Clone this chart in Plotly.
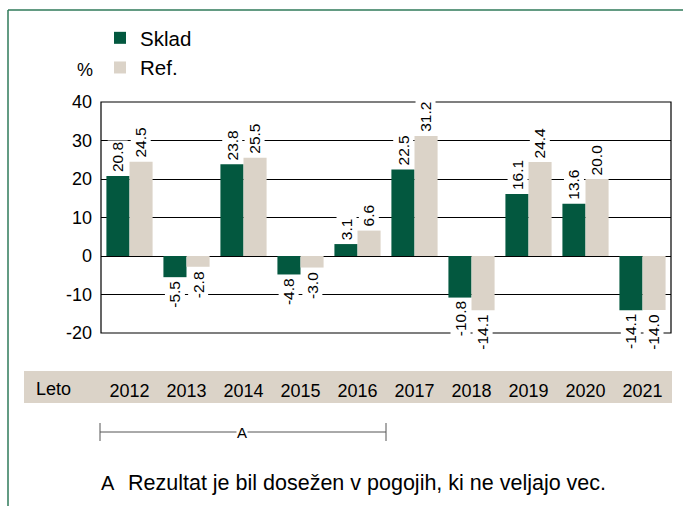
import plotly.graph_objects as go

years = ["2012", "2013", "2014", "2015", "2016", "2017", "2018", "2019", "2020", "2021"]
sklad = [20.8, -5.5, 23.8, -4.8, 3.1, 22.5, -10.8, 16.1, 13.6, -14.1]
ref = [24.5, -2.8, 25.5, -3.0, 6.6, 31.2, -14.1, 24.4, 20.0, -14.0]
y_ticks = [40, 30, 20, 10, 0, -10, -20]

GREEN = "#03583f"
BEIGE = "#dbd3c8"
FONT = "Liberation Sans, Arial, sans-serif"

W, H = 683, 506
ML, MR, MT, MB = 101, 12, 102, 173
PW, PH = W - ML - MR, H - MT - MB


def px(x):
    return (x - ML) / PW


def py(y):
    return (H - MB - y) / PH


fig = go.Figure()
fig.add_trace(go.Bar(x=years, y=sklad, name="Sklad", marker_color=GREEN,
                     marker_line_width=0, legendgroup="a"))
fig.add_trace(go.Bar(x=years, y=ref, name="Ref.", marker_color=BEIGE,
                     marker_line_width=0, legendgroup="b"))

# rotated value labels with white boxes that cut through the gridlines
for series, off in ((sklad, -0.2), (ref, 0.2)):
    for i, v in enumerate(series):
        fig.add_annotation(
            x=i + off, y=v, xref="x", yref="y",
            text=f"{v:.1f}", textangle=-90, showarrow=False,
            yanchor="bottom" if v >= 0 else "top",
            yshift=2 if v >= 0 else -2,
            bgcolor="white", borderpad=1,
            font=dict(family=FONT, size=15.5, color="black"),
        )

shapes = []
# green frame on the left and top
shapes.append(dict(type="line", xref="paper", yref="paper",
                   x0=px(8), x1=px(8), y0=py(506), y1=py(10),
                   line=dict(color="#2f7a5a", width=1.5)))
shapes.append(dict(type="line", xref="paper", yref="paper",
                   x0=px(8), x1=px(690), y0=py(10), y1=py(10),
                   line=dict(color="#2f7a5a", width=1.5)))
# band behind the year labels
shapes.append(dict(type="rect", xref="paper", yref="paper",
                   x0=px(24), x1=px(672), y0=py(403), y1=py(371),
                   fillcolor=BEIGE, line_width=0, layer="below"))
# bracket marking years with note A
shapes.append(dict(type="line", xref="paper", yref="paper",
                   x0=px(100), x1=px(386), y0=py(432), y1=py(432),
                   line=dict(color="#555555", width=1)))
for xx in (100, 386):
    shapes.append(dict(type="line", xref="paper", yref="paper",
                       x0=px(xx), x1=px(xx), y0=py(441), y1=py(423),
                       line=dict(color="#555555", width=1)))
# plot frame
shapes.append(dict(type="rect", xref="paper", yref="paper",
                   x0=0, x1=1, y0=0, y1=1, line=dict(color="black", width=1.2)))
fig.update_layout(shapes=shapes)


def note(x, y, text, size, xanchor="center", **kw):
    fig.add_annotation(x=px(x), y=py(y), xref="paper", yref="paper", text=text,
                       showarrow=False, xanchor=xanchor, yanchor="middle",
                       font=dict(family=FONT, size=size, color="black"), **kw)


note(242, 432, "A", 15, bgcolor="white", borderpad=0)
note(34, 389, "Leto", 18, xanchor="left")
note(85, 70, "%", 18)
note(99, 483, "A", 20, xanchor="left")
note(126, 483, "Rezultat je bil dosežen v pogojih, ki ne veljajo vec.",
     21.5, xanchor="left")

fig.update_layout(
    width=W, height=H,
    margin=dict(l=ML, r=MR, t=MT, b=MB, pad=0),
    paper_bgcolor="white", plot_bgcolor="white",
    barmode="group", bargap=0.19, bargroupgap=0,
    font=dict(family=FONT, size=18, color="black"),
    legend=dict(x=px(100), y=py(18), xanchor="left", yanchor="top",
                orientation="v", traceorder="normal", tracegroupgap=2,
                font=dict(family=FONT, size=20.5, color="black"),
                bgcolor="rgba(0,0,0,0)"),
    xaxis=dict(type="category", showgrid=False, showline=False, ticks="",
               ticklabelstandoff=45, tickfont=dict(family=FONT, size=18)),
    yaxis=dict(range=[-20, 40], tickvals=y_ticks,
               ticktext=[str(t) for t in y_ticks], showgrid=True,
               gridcolor="black", gridwidth=1, zeroline=True,
               zerolinecolor="black", zerolinewidth=1, showline=False,
               ticks="", ticklabelstandoff=8,
               tickfont=dict(family=FONT, size=18)),
)

fig.write_html("out.html")
